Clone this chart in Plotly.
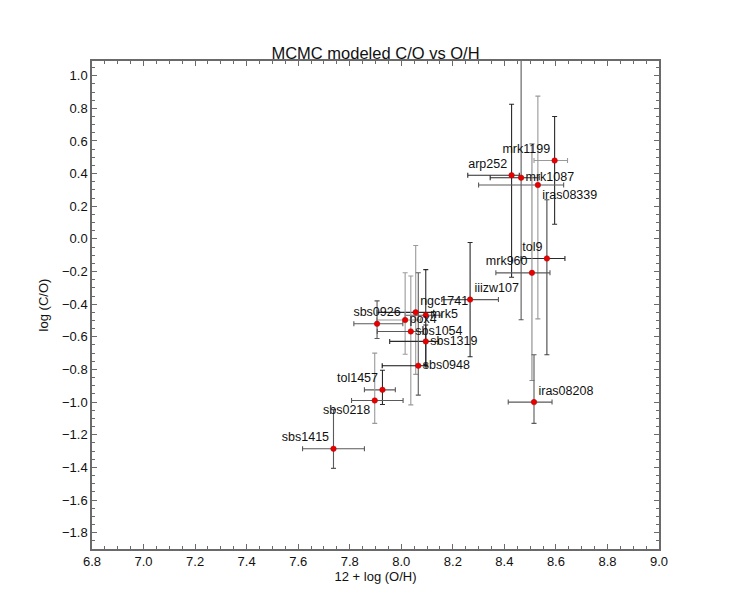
import plotly.graph_objects as go

# ---------------- data ----------------
names = ["mrk1199", "arp252", "mrk1087", "iras08339", "tol9", "mrk960",
         "iiizw107", "ngc1741", "mrk5", "pox4", "sbs0926", "sbs1054",
         "sbs1319", "sbs0948", "tol1457", "sbs0218", "sbs1415", "iras08208"]

oh = [8.595, 8.428, 8.465, 8.530, 8.565, 8.507,
      8.267, 8.056, 8.095, 8.015, 7.906, 8.037,
      8.095, 8.066, 7.927, 7.897, 7.737, 8.515]

co = [0.48, 0.39, 0.375, 0.33, -0.12, -0.208,
      -0.372, -0.45, -0.468, -0.497, -0.52, -0.567,
      -0.628, -0.777, -0.925, -0.99, -1.286, -1.00]

oh_err_minus = [0.08, 0.17, 0.12, 0.23, 0.10, 0.14,
                0.11, 0.15, 0.08, 0.11, 0.09, 0.13,
                0.14, 0.14, 0.07, 0.09, 0.12, 0.10]
oh_err_plus = [0.05, 0.03, 0.07, 0.10, 0.07, 0.07,
               0.11, 0.07, 0.06, 0.06, 0.10, 0.05,
               0.05, 0.03, 0.05, 0.11, 0.12, 0.07]

co_err_plus = [0.27, 0.435, 0.90, 0.545, 0.36, 0.79,
               0.35, 0.41, 0.28, 0.29, 0.14, 0.34,
               0.10, 0.57, 0.12, 0.29, 0.24, 0.29]
co_err_minus = [0.39, 0.625, 0.87, 0.82, 0.59, 0.66,
                0.35, 0.38, 0.31, 0.21, 0.09, 0.45,
                0.14, 0.18, 0.09, 0.14, 0.12, 0.13]

x_ticks = [6.8, 7.0, 7.2, 7.4, 7.6, 7.8, 8.0, 8.2, 8.4, 8.6, 8.8, 9.0]
y_ticks = [1.0, 0.8, 0.6, 0.4, 0.2, 0.0, -0.2, -0.4, -0.6, -0.8,
           -1.0, -1.2, -1.4, -1.6, -1.8]

# ---------------- styling ----------------
label_pos = ["top left", "top left", "middle right", "bottom right",
             "top left", "top left", "top right", "top right",
             "middle right", "middle right", "top center", "middle right",
             "middle right", "middle right", "top left", "bottom left",
             "top left", "top right"]

DARK, MID, LIGHT = "#2a2a2a", "#5a5a5a", "#9a9a9a"
ex_col = [LIGHT, DARK, DARK, MID, DARK, MID,
          MID, DARK, MID, LIGHT, MID, MID,
          DARK, "#111111", MID, MID, MID, MID]
ey_col = [DARK, DARK, MID, LIGHT, "#444444", "#8a8a8a",
          DARK, LIGHT, DARK, LIGHT, MID, LIGHT,
          DARK, MID, DARK, LIGHT, MID, MID]

FONT = "Liberation Sans, Arial, Helvetica, sans-serif"

fig = go.Figure()

for i in range(len(names)):
    fig.add_trace(go.Scatter(
        x=[oh[i]], y=[co[i]], mode="markers",
        marker=dict(size=1, color="rgba(0,0,0,0)"),
        error_x=dict(type="data", symmetric=False,
                     array=[oh_err_plus[i]], arrayminus=[oh_err_minus[i]],
                     color=ex_col[i], thickness=1.1, width=2.5),
        error_y=dict(type="data", symmetric=False,
                     array=[co_err_plus[i]], arrayminus=[co_err_minus[i]],
                     color=ey_col[i], thickness=1.1, width=2.5),
        hoverinfo="skip", showlegend=False))

fig.add_trace(go.Scatter(
    x=oh, y=co, mode="markers+text", text=names,
    textposition=label_pos,
    textfont=dict(family=FONT, size=12.5, color="#111111"),
    marker=dict(size=5.5, color="#e80000",
                line=dict(color="#b00000", width=0.5)),
    showlegend=False))

axis_common = dict(
    showline=True, linecolor="#6a6a6a", linewidth=1.5, mirror="ticks",
    ticks="inside", ticklen=5, tickwidth=1, tickcolor="#6a6a6a",
    minor=dict(ticks="inside", ticklen=3, tickwidth=0.8,
               tickcolor="#6a6a6a", dtick=0.05),
    showgrid=False, zeroline=False,
    tickfont=dict(family=FONT, size=13, color="#111111"),
)

fig.update_xaxes(
    range=[6.8, 9.0], tickvals=x_ticks,
    ticktext=[f"{v:.1f}" for v in x_ticks],
    title=dict(text="12 + log (O/H)", standoff=3,
               font=dict(family=FONT, size=13, color="#111111")),
    **axis_common)

fig.update_yaxes(
    range=[-1.9, 1.09], tickvals=y_ticks,
    ticktext=[(f"{v:.1f}" if v >= 0 else "\u2212" + f"{abs(v):.1f}")
              for v in y_ticks],
    title=dict(text="log (C/O)", standoff=10,
               font=dict(family=FONT, size=13, color="#111111")),
    **axis_common)

# page body adds an 8px margin; size/margins chosen so the plot frame
# lands where the reference frame is
fig.update_layout(
    width=726, height=603,
    margin=dict(l=84, r=75, t=53, b=62, autoexpand=False),
    paper_bgcolor="white", plot_bgcolor="white",
    title=dict(text="MCMC modeled C/O vs O/H", x=0.5, xref="paper",
               xanchor="center", y=1, yref="paper", yanchor="bottom",
               pad=dict(b=2),
               font=dict(family=FONT, size=16.5, color="#111111")),
    font=dict(family=FONT),
)

fig.write_html("out.html")
